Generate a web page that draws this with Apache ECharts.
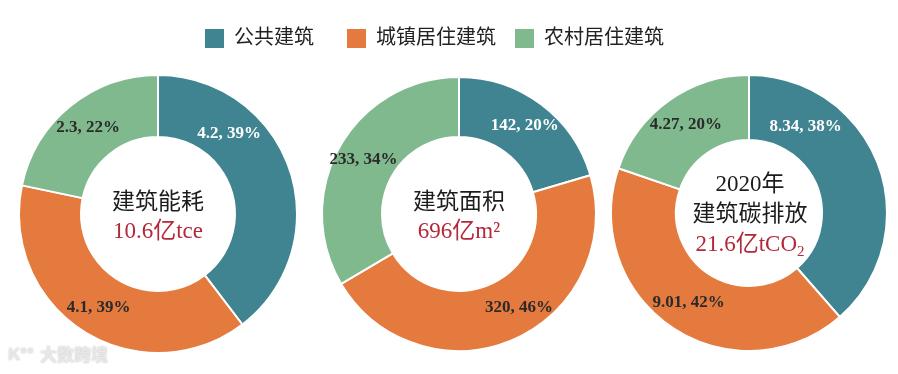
<!DOCTYPE html>
<html>
<head>
<meta charset="utf-8">
<script src="https://cdn.jsdelivr.net/npm/echarts@6/dist/echarts.min.js"></script>
<style>html,body{margin:0;padding:0;background:#fff;}#c{width:898px;height:374px;}</style>
</head>
<body>
<div id="c"></div>
<script>
const categories = ['公共建筑', '城镇居住建筑', '农村居住建筑'];
const energyValues = [4.2, 4.1, 2.3];
const energyPct = [39, 39, 22];
const areaValues = [142, 320, 233];
const areaPct = [20, 46, 34];
const carbonValues = [8.34, 9.01, 4.27];
const carbonPct = [38, 42, 20];
const centerTexts = [
  ['建筑能耗', '10.6亿tce'],
  ['建筑面积', '696亿m²'],
  ['2020年', '建筑碳排放', '21.6亿tCO']
];

const colors = ['#3f8490', '#e47a3e', '#80b98e'];
const serif = '"Liberation Serif", "Noto Sans CJK SC", serif';
const chart = echarts.init(document.getElementById('c'), null, {renderer: 'canvas'});

const pies = [
  {values: energyValues, pct: energyPct, center: [158, 214], radius: [77, 139], shift: {0: [-34, -45]}},
  {values: areaValues, pct: areaPct, center: [459, 214], radius: [77, 137], shift: {1: [16, -7]}},
  {values: carbonValues, pct: carbonPct, center: [749, 213], radius: [73, 138], shift: {0: [-45, -48]}}
];

const series = pies.map(function (p) {
  return {
    type: 'pie',
    center: p.center,
    radius: p.radius,
    startAngle: 90,
    clockwise: true,
    avoidLabelOverlap: false,
    emphasis: {scale: false},
    itemStyle: {borderColor: '#fff', borderWidth: 2},
    labelLine: {show: false},
    label: {
      show: true,
      position: 'inside',
      fontFamily: serif,
      fontWeight: 'bold',
      fontSize: 17,
      formatter: function (params) { return params.value + ', ' + p.pct[params.dataIndex] + '%'; }
    },
    labelLayout: function (params) {
      const s = p.shift[params.dataIndex];
      return s ? {dx: s[0], dy: s[1]} : {};
    },
    data: categories.map(function (c, i) {
      return {
        name: c,
        value: p.values[i],
        itemStyle: {color: colors[i]},
        label: {color: i === 0 ? '#ffffff' : '#2a2a2a'}
      };
    })
  };
});

const dark = '#1c1c1c', red = '#b3283a';
const graphics = [];
function txt(x, y, text, color) {
  graphics.push({
    type: 'text', x: x, y: y, silent: true,
    style: {text: text, fill: color, font: '23px ' + serif, align: 'center', verticalAlign: 'middle'}
  });
}
txt(158, 203, centerTexts[0][0], dark);
txt(158, 232, centerTexts[0][1], red);
txt(459, 203, centerTexts[1][0], dark);
txt(459, 232, centerTexts[1][1], red);
txt(750, 185, centerTexts[2][0], dark);
txt(750, 215, centerTexts[2][1], dark);
graphics.push({
  type: 'text', x: 750, y: 245, silent: true,
  style: {
    text: '{a|' + centerTexts[2][2] + '}{s|2}',
    align: 'center', verticalAlign: 'middle', fill: red,
    rich: {
      a: {fontSize: 23, fontFamily: serif, fill: red, lineHeight: 30, verticalAlign: 'middle'},
      s: {fontSize: 15, fontFamily: serif, fill: red, lineHeight: 30, verticalAlign: 'bottom'}
    }
  }
});
graphics.push({
  type: 'text', x: 40, y: 355, silent: true,
  style: {text: '大数跨境', fill: '#e8e8e8', font: 'bold 17px "Noto Sans CJK SC"', align: 'left', verticalAlign: 'middle',
          textShadowColor: 'rgba(0,0,0,0.25)', textShadowBlur: 2}
});
graphics.push({
  type: 'text', x: 8, y: 355, silent: true,
  style: {text: 'K°°', fill: '#e8e8e8', font: 'bold 17px "Liberation Sans"', align: 'left', verticalAlign: 'middle',
          textShadowColor: 'rgba(0,0,0,0.25)', textShadowBlur: 2}
});

const legendLefts = [203, 345, 513];
const legends = categories.map(function (c, i) {
  return {
    data: [c],
    left: legendLefts[i],
    top: 27,
    padding: 0,
    itemWidth: 21,
    itemHeight: 21,
    icon: 'rect',
    textStyle: {fontFamily: serif, fontSize: 20, color: '#222', padding: [0, 0, 0, 4]}
  };
});

chart.setOption({
  animation: false,
  legend: legends,
  series: series,
  graphic: graphics
});
</script>
</body>
</html>
